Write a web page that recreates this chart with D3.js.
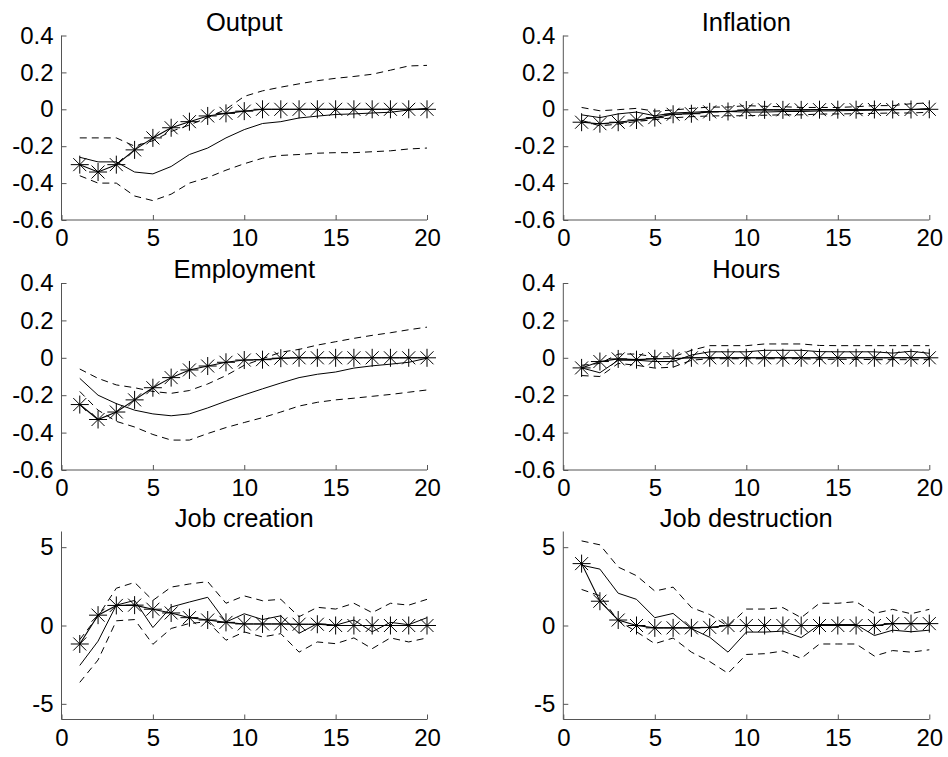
<!DOCTYPE html>
<html>
<head>
<meta charset="utf-8">
<script src="https://cdnjs.cloudflare.com/ajax/libs/d3/7.8.5/d3.min.js"></script>
<style>
  html, body { margin: 0; padding: 0; background: #fff; }
  svg { display: block; }
  text { font-family: "Liberation Sans", Arial, Helvetica, sans-serif; fill: #000; }
</style>
</head>
<body>
<svg id="chart" width="948" height="757"></svg>
<script>
// ---------------- data ----------------
const horizon = [1,2,3,4,5,6,7,8,9,10,11,12,13,14,15,16,17,18,19,20];
const xTicks = [0,5,10,15,20];
const yTicksSmall = [-0.6,-0.4,-0.2,0,0.2,0.4];
const yTicksJob = [-5,0,5];
const titles = ["Output","Inflation","Employment","Hours","Job creation","Job destruction"];

const outputModel  = [-0.30,-0.34,-0.30,-0.22,-0.155,-0.10,-0.067,-0.036,-0.022,-0.01,0,0,0,0,0,0,0,0,0,0];
const outputMedian = [-0.26,-0.285,-0.285,-0.34,-0.35,-0.31,-0.245,-0.21,-0.155,-0.11,-0.077,-0.067,-0.047,-0.037,-0.028,-0.025,-0.02,-0.016,-0.004,0.005];
const outputUpper  = [-0.155,-0.155,-0.155,-0.20,-0.17,-0.12,-0.085,-0.045,0.0,0.07,0.10,0.12,0.138,0.155,0.168,0.178,0.19,0.212,0.235,0.238];
const outputLower  = [-0.36,-0.40,-0.40,-0.47,-0.495,-0.46,-0.40,-0.37,-0.33,-0.295,-0.265,-0.25,-0.245,-0.238,-0.235,-0.235,-0.23,-0.225,-0.215,-0.21];

const inflModel  = [-0.07,-0.078,-0.07,-0.058,-0.045,-0.027,-0.024,-0.014,-0.012,-0.004,-0.003,-0.003,-0.003,-0.002,-0.002,-0.002,-0.001,-0.001,-0.001,0];
const inflMedian = [-0.03,-0.045,-0.025,-0.015,-0.035,-0.02,-0.016,-0.012,-0.012,-0.015,-0.015,-0.012,-0.012,-0.009,-0.008,-0.006,-0.005,-0.003,-0.001,0.004];
const inflUpper  = [0.01,-0.008,-0.002,0.005,-0.01,-0.004,0.005,0.012,0.012,0.02,0.016,0.014,0.01,0.01,0.01,0.014,0.02,0.02,0.03,0.035];
const inflLower  = [-0.06,-0.09,-0.08,-0.066,-0.056,-0.046,-0.04,-0.036,-0.035,-0.035,-0.032,-0.03,-0.03,-0.026,-0.025,-0.024,-0.022,-0.02,-0.02,-0.016];

const empModel  = [-0.25,-0.33,-0.29,-0.225,-0.16,-0.106,-0.065,-0.044,-0.024,-0.012,-0.01,-0.002,0,0,0,0,0,0,0,0];
const empMedian = [-0.11,-0.20,-0.245,-0.28,-0.30,-0.31,-0.30,-0.268,-0.232,-0.198,-0.166,-0.135,-0.106,-0.088,-0.076,-0.055,-0.043,-0.034,-0.024,-0.002];
const empUpper  = [-0.06,-0.11,-0.145,-0.16,-0.18,-0.19,-0.175,-0.14,-0.095,-0.04,-0.005,0.03,0.045,0.068,0.086,0.104,0.12,0.134,0.15,0.164];
const empLower  = [-0.18,-0.28,-0.34,-0.37,-0.41,-0.44,-0.44,-0.405,-0.373,-0.346,-0.32,-0.29,-0.258,-0.238,-0.225,-0.216,-0.206,-0.196,-0.184,-0.172];

const hrsModel  = [-0.054,-0.02,-0.006,-0.01,-0.005,-0.004,0,0,0,0,0,0,0,0,0,0,0,0,0,0];
const hrsMedian = [-0.054,-0.08,-0.013,-0.013,-0.02,-0.02,0.015,0.032,0.032,0.032,0.04,0.04,0.04,0.033,0.032,0.032,0.032,0.025,0.035,0.024];
const hrsUpper  = [-0.04,-0.03,0.02,0.02,0.005,0.005,0.04,0.065,0.065,0.065,0.074,0.074,0.074,0.066,0.065,0.065,0.065,0.065,0.065,0.065];
const hrsLower  = [-0.095,-0.1,-0.03,-0.04,-0.055,-0.05,-0.013,-0.005,-0.005,-0.005,-0.005,-0.005,-0.005,-0.008,-0.008,-0.008,-0.01,-0.01,-0.01,-0.01];

const jcModel  = [-1.18,0.66,1.28,1.3,1.04,0.8,0.5,0.35,0.2,0.1,0.1,0.1,0.08,0.08,0,0,0,0,0,0];
const jcMedian = [-2.55,-1.0,1.3,1.6,-0.13,1.18,1.5,1.8,0.22,0.75,0.38,0.62,-0.5,0.12,0.02,0.35,-0.4,0.2,0.05,0.5];
const jcUpper  = [-0.9,0.6,2.38,2.75,1.6,2.45,2.65,2.8,1.42,1.89,1.58,1.67,0.56,1.16,1.05,1.42,0.82,1.42,1.3,1.67];
const jcLower  = [-3.63,-2.2,0.3,0.38,-1.2,-0.19,0.13,0.24,-0.94,-0.41,-0.73,-0.52,-1.7,-1.05,-1.16,-0.79,-1.48,-0.79,-1.05,-0.79];

const jdModel  = [3.95,1.55,0.35,0,-0.15,-0.15,-0.15,-0.12,0,0,0,0,0,0,0,0,0,0.12,0.12,0.12];
const jdMedian = [3.85,3.6,2.06,1.67,0.5,0.77,-0.2,-0.75,-1.7,-0.42,-0.42,-0.36,-0.77,0.06,0.06,0.06,-0.64,-0.3,-0.4,-0.3];
const jdUpper  = [5.4,5.15,3.73,3.18,2.2,2.45,1.15,0.7,-0.05,1.05,1.05,1.14,0.5,1.42,1.42,1.52,0.77,1.03,0.75,1.03];
const jdLower  = [2.3,1.9,0.3,-0.4,-1.16,-0.8,-1.7,-2.3,-3.05,-1.85,-1.8,-1.63,-2.1,-1.18,-1.18,-1.18,-1.95,-1.6,-1.7,-1.55];

// ---------------- layout ----------------
const colX = [[61.5, 427], [563.3, 929.3]];
const rowY = [[220, 35.5], [470, 283], [719.5, 531.5]];

const panels = [
  {title: titles[0], col: 0, row: 0, dom: [-0.6, 0.4], ticks: yTicksSmall, model: outputModel, median: outputMedian, upper: outputUpper, lower: outputLower},
  {title: titles[1], col: 1, row: 0, dom: [-0.6, 0.4], ticks: yTicksSmall, model: inflModel, median: inflMedian, upper: inflUpper, lower: inflLower},
  {title: titles[2], col: 0, row: 1, dom: [-0.6, 0.4], ticks: yTicksSmall, model: empModel, median: empMedian, upper: empUpper, lower: empLower},
  {title: titles[3], col: 1, row: 1, dom: [-0.6, 0.4], ticks: yTicksSmall, model: hrsModel, median: hrsMedian, upper: hrsUpper, lower: hrsLower},
  {title: titles[4], col: 0, row: 2, dom: [-6, 6], ticks: yTicksJob, model: jcModel, median: jcMedian, upper: jcUpper, lower: jcLower},
  {title: titles[5], col: 1, row: 2, dom: [-6, 6], ticks: yTicksJob, model: jdModel, median: jdMedian, upper: jdUpper, lower: jdLower}
];

const svg = d3.select("#chart");
const fmt = v => String(v).replace("\u2212", "-");
const axisColor = "#555";
const tickFont = 24;

panels.forEach(p => {
  const x = d3.scaleLinear().domain([0, 20]).range(colX[p.col]);
  const y = d3.scaleLinear().domain(p.dom).range(rowY[p.row]);
  const g = svg.append("g");

  // axes
  const ya = d3.axisLeft(y).tickValues(p.ticks).tickSize(-5).tickPadding(8).tickFormat(fmt);
  const xa = d3.axisBottom(x).tickValues(xTicks).tickSize(-5).tickPadding(9).tickFormat(fmt);
  const gy = g.append("g").attr("transform", `translate(${colX[p.col][0]},0)`).call(ya);
  const gx = g.append("g").attr("transform", `translate(0,${rowY[p.row][0]})`).call(xa);
  [gy, gx].forEach(a => {
    a.select(".domain").attr("stroke", axisColor).attr("stroke-width", 1);
    a.selectAll(".tick line").attr("stroke", axisColor);
    a.selectAll(".tick text").style("font-size", tickFont + "px").attr("fill", "#000");
  });
  gy.select(".domain").attr("d", `M0,${rowY[p.row][0]}V${rowY[p.row][1]}`);
  gx.select(".domain").attr("d", `M${colX[p.col][0]},0H${colX[p.col][1]}`);
  gx.selectAll(".tick text").attr("dy", "0.71em");

  // title
  g.append("text")
    .attr("x", (colX[p.col][0] + colX[p.col][1]) / 2)
    .attr("y", rowY[p.row][1] - 5)
    .attr("text-anchor", "middle")
    .style("font-size", "25.5px")
    .text(p.title);

  const line = arr => d3.line().x((d, i) => x(horizon[i])).y(d => y(d))(arr);

  g.append("path").attr("d", line(p.upper)).attr("fill", "none").attr("stroke", "#000").attr("stroke-width", 1).attr("stroke-dasharray", "7,5");
  g.append("path").attr("d", line(p.lower)).attr("fill", "none").attr("stroke", "#000").attr("stroke-width", 1).attr("stroke-dasharray", "7,5");
  g.append("path").attr("d", line(p.median)).attr("fill", "none").attr("stroke", "#000").attr("stroke-width", 1);
  g.append("path").attr("d", line(p.model)).attr("fill", "none").attr("stroke", "#000").attr("stroke-width", 1.1);

  const r = 9, dd = 6.5;
  const star = `M0,${-r}V${r}M${-r},0H${r}M${-dd},${-dd}L${dd},${dd}M${-dd},${dd}L${dd},${-dd}`;
  g.selectAll("path.star").data(p.model).enter().append("path")
    .attr("class", "star")
    .attr("transform", (d, i) => `translate(${x(horizon[i])},${y(d)})`)
    .attr("d", star)
    .attr("fill", "none").attr("stroke", "#000").attr("stroke-width", 1);
});
</script>
</body>
</html>
